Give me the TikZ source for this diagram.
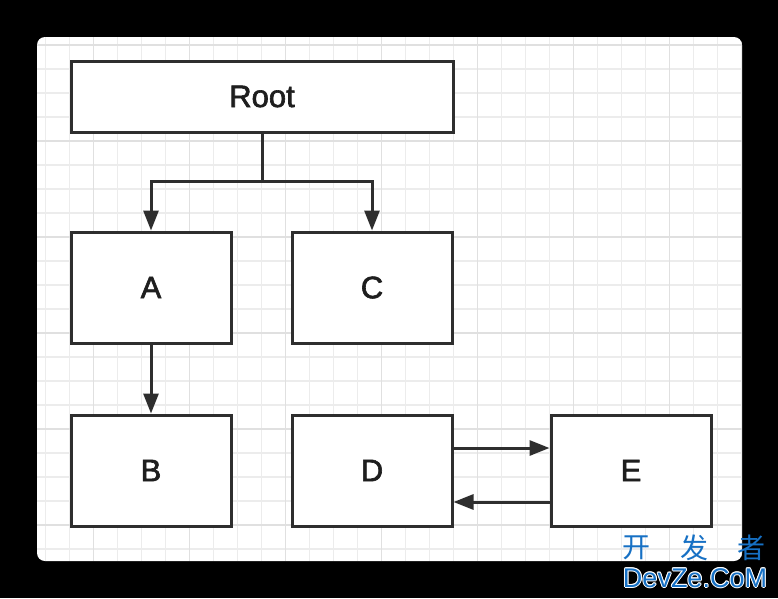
\documentclass[tikz,border=0pt]{standalone}
\usepackage{fontspec}
\setmainfont{Liberation Sans}
\newfontfamily\lblfont[FakeBold=2]{Liberation Sans}
\newfontfamily\cjk{Noto Sans CJK SC}
\usetikzlibrary{arrows.meta}
\definecolor{boxline}{HTML}{2E2E2E}
\definecolor{txt}{HTML}{1E1E1E}
\definecolor{gridminor}{HTML}{ECECEC}
\definecolor{gridmajor}{HTML}{E0E0E0}
\definecolor{wm}{RGB}{22,112,196}
\tikzset{
  box/.style={draw=boxline, line width=3pt, fill=white, inner sep=0pt,
    font=\lblfont\fontsize{31}{31}\selectfont, text=txt},
  arr/.style={draw=boxline, line width=3pt, -{Triangle[length=20pt,width=15pt]}},
  conn/.style={draw=boxline, line width=3pt},
  wmtext/.style={text=wm, inner sep=0pt},
}
\begin{document}
\begin{tikzpicture}[x=1pt,y=-1pt]
\useasboundingbox (0,0) rectangle (778,598);
\fill[black] (0,0) rectangle (778,598);
\fill[white, rounded corners=8pt] (37,37) rectangle (742,561);
\begin{scope}
  \clip[rounded corners=8pt] (37,37) rectangle (742,561);
  \foreach \i in {0,...,29} {
    \draw[gridminor, line width=1.5pt] (45.3+24*\i,37) -- (45.3+24*\i,561);
  }
  \foreach \i in {0,...,21} {
    \draw[gridminor, line width=1.5pt] (37,45+24*\i) -- (742,45+24*\i);
  }
  \foreach \i in {0,...,6} {
    \draw[gridmajor, line width=1.5pt] (93.3+96*\i,37) -- (93.3+96*\i,561);
  }
  \foreach \i in {0,...,5} {
    \draw[gridmajor, line width=1.5pt] (37,45+96*\i) -- (742,45+96*\i);
  }
\end{scope}

\node[box, minimum width=382pt, minimum height=71pt] (root) at (262,96.5) {Root};
\node[box, minimum width=160pt, minimum height=111pt] (a) at (151,287.5) {A};
\node[box, minimum width=160pt, minimum height=111pt] (c) at (372,287.5) {C};
\node[box, minimum width=160pt, minimum height=111pt] (b) at (151,470.5) {B};
\node[box, minimum width=160pt, minimum height=111pt] (d) at (372,470.5) {D};
\node[box, minimum width=160pt, minimum height=111pt] (e) at (631,470.5) {E};

\coordinate (j) at (262,181);
\draw[conn] (root.south) -- (j);
\draw[arr] (j) -| (a.north);
\draw[arr] (j) -| (c.north);
\draw[arr] (a.south) -- (b.north);
\draw[arr] ([yshift=22.5pt]d.east) -- ([yshift=22.5pt]e.west);
\draw[arr] ([yshift=-31.5pt]e.west) -- ([yshift=-31.5pt]d.east);

\node[wmtext, font=\cjk\fontsize{28}{28}\selectfont] (w1) at (636.5,548) {开};
\node[wmtext, font=\cjk\fontsize{28}{28}\selectfont] (w2) at (694.5,548) {发};
\node[wmtext, font=\cjk\fontsize{28}{28}\selectfont] (w3) at (751.5,548) {者};
\foreach \dx/\dy [count=\k] in {1/0,-1/0,0/1,0/-1,0.7/0.7,-0.7/0.7,0.7/-0.7,-0.7/-0.7} {
  \node[text=white, font=\fontsize{27}{27}\selectfont, inner sep=0pt, anchor=base] (wo\k) at (695+\dx,587+\dy) {DevZe.CoM};
}
\node[wmtext, font=\fontsize{27}{27}\selectfont, anchor=base] (w4) at (695,587) {DevZe.CoM};
\end{tikzpicture}
\end{document}
